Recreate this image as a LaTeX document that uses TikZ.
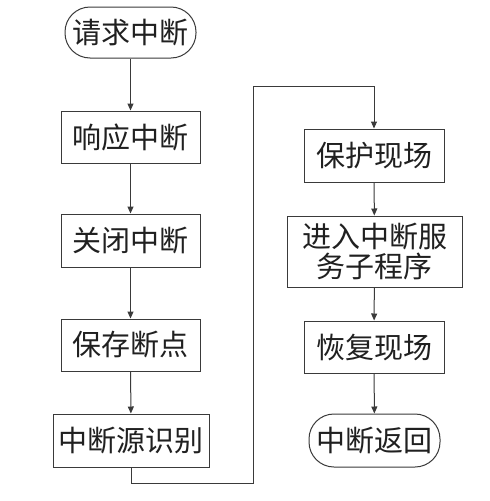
\documentclass[tikz,border=0pt]{standalone}
\usepackage{fontspec}
\newfontfamily\cjk{Noto Sans CJK SC}
\usetikzlibrary{arrows.meta}
\definecolor{ln}{HTML}{3A3A3A}
\definecolor{tx}{HTML}{202020}
\tikzset{
  box/.style={draw=ln, line width=1pt, fill=white, inner sep=0pt, text=tx,
    font=\cjk\fontsize{29}{31}\selectfont, align=center},
  term/.style={box, rounded corners=25pt},
  arr/.style={draw=ln, line width=1pt, -{Triangle[length=7pt,width=6pt]}},
}
\begin{document}
\begin{tikzpicture}[x=1pt,y=-1pt]
\useasboundingbox[fill=white] (0,0) rectangle (490,501);
\node[term, minimum width=131pt, minimum height=51pt] (req) at (130.5,32.5) {请求中断};
\node[box, minimum width=139pt, minimum height=52pt] (resp) at (130.5,137) {响应中断};
\node[box, minimum width=139pt, minimum height=53pt] (close) at (130.5,240.5) {关闭中断};
\node[box, minimum width=139pt, minimum height=52pt] (save) at (130.5,345) {保存断点};
\node[box, minimum width=156pt, minimum height=53pt] (src) at (131,440.5) {中断源识别};
\node[box, minimum width=140pt, minimum height=53pt] (prot) at (374,155.5) {保护现场};
\node[box, minimum width=175pt, minimum height=71pt] (serv) at (374.5,251.5) {进入中断服\\[-1pt]务子程序};
\node[box, minimum width=140pt, minimum height=52pt] (rest) at (374,347) {恢复现场};
\node[term, minimum width=131pt, minimum height=53pt] (ret) at (374.5,440.5) {中断返回};
\coordinate (c1) at (253,483);
\coordinate (c2) at (253,86);
\draw[arr] (req) -- (resp);
\draw[arr] (resp) -- (close);
\draw[arr] (close) -- (save);
\draw[arr] (save) -- (src);
\draw[arr] (src.south) |- (c1) -- (c2) -| (prot.north);
\draw[arr] (prot) -- (serv);
\draw[arr] (serv) -- (rest);
\draw[arr] (rest) -- (ret);
\end{tikzpicture}
\end{document}
